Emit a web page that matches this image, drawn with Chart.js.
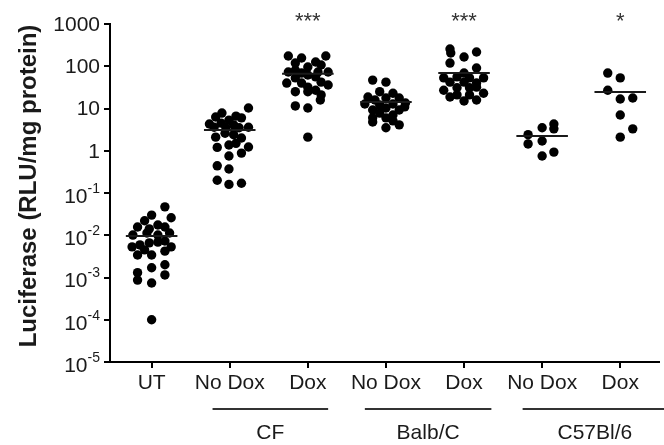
<!DOCTYPE html>
<html><head><meta charset="utf-8">
<script src="https://cdn.jsdelivr.net/npm/chart.js@4"></script>
<style>html,body{margin:0;padding:0;background:#fff}</style>
</head><body>
<canvas id="c" width="664" height="445"></canvas>
<script>
// ---------- data ----------
const categories = ["UT", "No Dox", "Dox", "No Dox", "Dox", "No Dox", "Dox"];
const groupNames = ["CF", "Balb/C", "C57Bl/6"];
const significance = ["", "", "***", "", "***", "", "*"];
const yTitle = "Luciferase (RLU/mg protein)";
const yTickValues = [1e-5, 1e-4, 1e-3, 1e-2, 1e-1, 1, 10, 100, 1000];
const yTickLabels = ["10^-5", "10^-4", "10^-3", "10^-2", "10^-1", "1", "10", "100", "1000"];
const groupMeans = [0.0096, 3.1, 66, 14.3, 69, 2.23, 24.5];

const utValues = [0.047,0.030,0.026,0.022,0.0175,0.0157,0.0157,0.0141,0.0113,0.0101,0.0101,0.0113,0.0053,0.0059,0.0066,0.0069,0.0073,0.0053,0.0034,0.0034,0.0042,0.0045,0.0020,0.0017,0.0013,0.00087,0.00115,0.00074,0.0001];
const utJitter = [0.17,0,0.25,-0.09,0.08,-0.18,0.17,-0.03,-0.06,-0.24,0.08,0.23,-0.25,-0.15,-0.03,0.08,0.17,0.25,-0.18,0,0.17,-0.09,0.17,0,-0.18,-0.18,0.17,0,0];

const cfNoDoxValues = [10.3,7.8,6.3,6.6,6.0,5.3,4.3,4.5,4.1,3.6,3.5,3.5,3.6,2.1,2.0,1.2,1.37,1.5,1.23,0.75,0.88,0.44,0.37,0.20,0.16,0.17,2.6,2.4];
const cfNoDoxJitter = [0.24,-0.10,-0.18,0.08,0.15,-0.01,-0.26,-0.11,0.05,0.24,-0.05,0.12,-0.20,-0.18,0.15,-0.16,-0.01,0.08,0.24,-0.01,0.15,-0.16,-0.01,-0.16,-0.01,0.15,-0.06,0.05];

const cfDoxValues = [175,157,175,119,126,107,96,73,69,73,62,56,53,40,40,42,36,32,25,25,27,21,15.9,11.5,10.3,2.1,80,73];
const cfDoxJitter = [-0.25,-0.08,0.23,-0.16,0.10,0.17,0,-0.25,-0.08,0.26,0,0.10,-0.16,-0.27,-0.08,0.17,0.26,0,-0.16,0,0.10,0.17,0.16,-0.16,0,0,-0.16,0.13];

const balbNoDoxValues = [47,42,25,23,18.7,15.9,17.7,17.7,13.5,12.8,12.1,12.8,9.2,10.3,9.2,7.8,7.0,6.0,6.0,4.8,5.1,4.1,3.5,10.9];
const balbNoDoxJitter = [-0.17,0,-0.08,0.09,-0.23,-0.14,0,0.17,0.25,-0.27,-0.08,0.09,-0.17,0,0.17,-0.08,0.09,-0.17,0,-0.17,0.09,0.17,0,0.24];

const balbDoxValues = [256,206,166,217,119,91,69,56,53,53,53,42,42,40,27,31,31,32,23,18.7,21,21,15.1,15.9];
const balbDoxJitter = [-0.18,-0.17,0,0.16,-0.18,0.16,0,-0.09,-0.26,0.07,0.25,-0.18,0,0.16,-0.26,-0.09,0.07,0.16,0.25,-0.18,-0.09,0.07,0,0.16];

const c57NoDoxValues = [4.3,3.3,3.5,2.4,1.45,1.7,0.93,0.75];
const c57NoDoxJitter = [0.15,0.15,0,-0.18,-0.18,0,0.15,0];

const c57DoxValues = [69,53,27,16.8,17.7,7.0,3.3,2.1];
const c57DoxJitter = [-0.16,0,-0.16,0,0.16,0,0.16,0];

const pointValues = [utValues, cfNoDoxValues, cfDoxValues, balbNoDoxValues, balbDoxValues, c57NoDoxValues, c57DoxValues];
const pointJitter = [utJitter, cfNoDoxJitter, cfDoxJitter, balbNoDoxJitter, balbDoxJitter, c57NoDoxJitter, c57DoxJitter];

// ---------- chart ----------
const FONT = '"Liberation Sans", Arial, Helvetica, sans-serif';
const MEAN_HALF = 0.33;

const meanDatasets = groupMeans.map((m, i) => ({
  type: 'line',
  data: [{x: i - MEAN_HALF, y: m}, {x: i + MEAN_HALF, y: m}],
  borderColor: '#1a1a1a', borderWidth: 2, pointRadius: 0, order: 0
}));
const pointDatasets = pointValues.map((vals, i) => ({
  type: 'scatter',
  data: vals.map((v, k) => ({x: i + pointJitter[i][k], y: v})),
  backgroundColor: '#000', borderWidth: 0, pointRadius: 4.7, pointHoverRadius: 4.7, order: 1
}));

const decorPlugin = {
  id: 'decor',
  afterDraw(chart, args, opts) {
    const ctx = chart.ctx;
    const xs = chart.scales.x, ys = chart.scales.y;
    ctx.save();
    ctx.fillStyle = '#1a1a1a';
    // y axis title
    ctx.save();
    ctx.translate(opts.titleX, opts.titleY);
    ctx.rotate(-Math.PI / 2);
    ctx.font = 'bold 24px ' + FONT;
    ctx.textAlign = 'center';
    ctx.textBaseline = 'middle';
    ctx.fillText(yTitle, 0, 0);
    ctx.restore();
    // y tick labels with superscripts
    yTickValues.forEach((v, i) => {
      const py = ys.getPixelForValue(v);
      const lab = yTickLabels[i];
      ctx.textBaseline = 'middle';
      ctx.textAlign = 'right';
      if (lab.includes('^')) {
        const [base, exp] = lab.split('^');
        ctx.font = '14px ' + FONT;
        const ew = ctx.measureText(exp).width;
        ctx.fillText(exp, opts.yLabelRight, py - 4);
        ctx.font = '21px ' + FONT;
        ctx.fillText(base, opts.yLabelRight - ew, py + 4);
      } else {
        ctx.font = '21px ' + FONT;
        ctx.fillText(lab, opts.yLabelRight, py + 1);
      }
    });
    // significance stars
    ctx.font = '22px ' + FONT;
    ctx.textAlign = 'center';
    ctx.textBaseline = 'alphabetic';
    ctx.fillStyle = '#333';
    significance.forEach((s, i) => {
      if (s) ctx.fillText(s, xs.getPixelForValue(i), opts.starBaseline);
    });
    // group underlines and names
    ctx.strokeStyle = '#333';
    ctx.lineWidth = 2;
    ctx.fillStyle = '#1a1a1a';
    ctx.font = '21px ' + FONT;
    ctx.textBaseline = 'middle';
    groupNames.forEach((g, i) => {
      const [a, b] = opts.spans[i];
      const x0 = xs.getPixelForValue(a), x1 = xs.getPixelForValue(b);
      ctx.beginPath();
      ctx.moveTo(x0, opts.lineY); ctx.lineTo(x1, opts.lineY);
      ctx.stroke();
      ctx.fillText(g, (x0 + x1) / 2, opts.groupLabelY);
    });
    ctx.restore();
  }
};

new Chart(document.getElementById('c'), {
  data: { datasets: [...meanDatasets, ...pointDatasets] },
  plugins: [decorPlugin],
  options: {
    responsive: false,
    animation: false,
    devicePixelRatio: 1,
    layout: { padding: { top: 24, right: 0, bottom: 0, left: 0 } },
    plugins: {
      legend: { display: false },
      tooltip: { enabled: false },
      decor: {
        titleX: 29,
        titleY: 186,
        yLabelRight: 100,
        starBaseline: 28,
        spans: [[0.78, 2.26], [2.73, 4.35], [4.75, 6.6]],
        lineY: 409,
        groupLabelY: 433
      }
    },
    scales: {
      x: {
        type: 'linear',
        min: -0.533, max: 6.5,
        afterBuildTicks: s => { s.ticks = categories.map((_, i) => ({value: i})); },
        afterFit: s => { s.height = 83; s.paddingLeft = 0; s.paddingRight = 0; },
        ticks: {
          autoSkip: false, maxRotation: 0, padding: 3,
          color: '#1a1a1a',
          font: { family: FONT, size: 21 },
          callback: (v, idx) => categories[idx]
        },
        grid: { display: true, drawOnChartArea: false, drawTicks: true, tickLength: 6, color: '#000', lineWidth: 2 },
        border: { display: true, color: '#000', width: 2 }
      },
      y: {
        type: 'logarithmic',
        min: 1e-5, max: 1000,
        afterBuildTicks: s => { s.ticks = yTickValues.map(v => ({value: v})); },
        afterFit: s => { s.width = 110; s.paddingTop = 0; s.paddingBottom = 0; },
        ticks: { color: 'rgba(0,0,0,0)', font: { family: FONT, size: 21 }, callback: (v, idx) => yTickLabels[idx] },
        grid: { display: true, drawOnChartArea: false, drawTicks: true, tickLength: 6, color: '#000', lineWidth: 2 },
        border: { display: true, color: '#000', width: 2 },
        title: { display: false }
      }
    }
  }
});
</script>
</body></html>
